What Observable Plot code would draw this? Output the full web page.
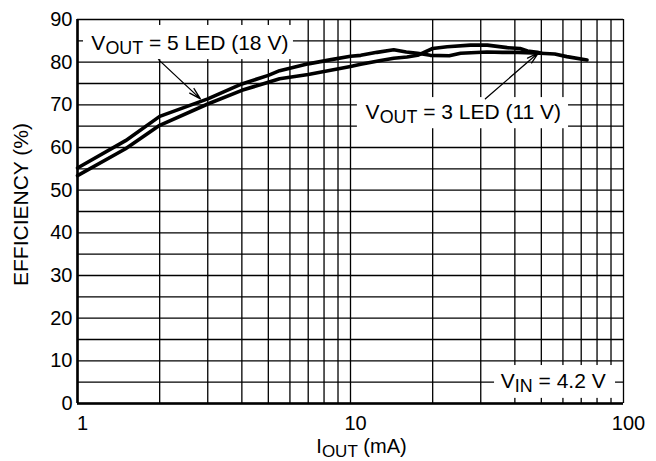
<!DOCTYPE html>
<html><head><meta charset="utf-8">
<script src="https://cdn.jsdelivr.net/npm/d3@7"></script>
<script src="https://cdn.jsdelivr.net/npm/@observablehq/plot@0.6"></script>
<style>body{margin:0;background:#fff}</style>
</head><body><div id="chart"></div>
<script>
// Series: 5 LED (18 V)
const ioutA = [1, 1.5, 2, 3, 4, 5, 5.5, 7, 8.5, 10, 10.9, 12.5, 14.4, 16, 17.6, 19.6, 23, 25.3, 31.6, 36, 41, 49.5, 56, 62, 73.5];
const effA  = [55.2, 61.6, 67.3, 71.4, 74.9, 76.9, 78.0, 79.6, 80.6, 81.4, 81.6, 82.3, 82.9, 82.4, 82.1, 81.6, 81.5, 82.1, 82.4, 82.3, 82.3, 82.1, 81.9, 81.3, 80.5];
// Series: 3 LED (11 V)
const ioutB = [1, 1.5, 2, 3, 4, 5, 5.5, 7, 10, 10.9, 12.9, 14.4, 16.1, 17.6, 20, 22.6, 27.5, 31.7, 37.5, 41.8, 44.5, 48.4, 50];
const effB  = [53.4, 59.7, 65.2, 70.2, 73.4, 75.3, 76.1, 77.1, 79.0, 79.5, 80.4, 80.9, 81.2, 81.6, 83.2, 83.6, 84.0, 84.0, 83.4, 83.2, 82.6, 82.3, 82.1];

const xTicks = [1, 10, 100];
const yTicks = [0, 10, 20, 30, 40, 50, 60, 70, 80, 90];
const xGrid = [1, 2, 3, 4, 5, 6, 7, 8, 9, 10, 20, 30, 40, 50, 60, 70, 80, 90, 100];
const yGrid = [0, 5, 10, 15, 20, 25, 30, 35, 40, 45, 50, 55, 60, 65, 70, 75, 80, 85, 90];
const annotationTexts = ["V_{OUT} = 5 LED (18 V)", "V_{OUT} = 3 LED (11 V)", "V_{IN} = 4.2 V"];
const xLabel = "I_{OUT} (mA)";
const yLabel = "EFFICIENCY (%)";

const seriesA = ioutA.map((x, i) => ({x, y: effA[i]}));
const seriesB = ioutB.map((x, i) => ({x, y: effB[i]}));

const boxes = [
  {x1: 1.052, x2: 6.18, y1: 80.6, y2: 88.6, tx: 2.58, ty: 84.5, text: annotationTexts[0]},
  {x1: 10.6, x2: 62.9, y1: 64.4, y2: 71.7, tx: 25.9, ty: 68.2, text: annotationTexts[1]},
  {x1: 33.7, x2: 93.5, y1: 1.2, y2: 8.9, tx: 55.3, ty: 5.2, text: annotationTexts[2]}
];
const arrows = [
  {x1: 1.98, y1: 80.6, x2: 2.82, y2: 71.4},
  {x1: 31.2, y1: 71.4, x2: 48.8, y2: 82.2}
];

const chart = Plot.plot({
  width: 656,
  height: 461,
  marginLeft: 77,
  marginRight: 33,
  marginTop: 19,
  marginBottom: 58,
  style: {fontFamily: "'Liberation Sans', Arial, Helvetica, sans-serif", fontSize: "20px", color: "black", background: "white"},
  x: {type: "log", domain: [1, 100]},
  y: {domain: [0, 90]},
  marks: [
    Plot.ruleX(xGrid, {stroke: "black", strokeWidth: 1.3, strokeOpacity: 1}),
    Plot.ruleY(yGrid, {stroke: "black", strokeWidth: 1.3, strokeOpacity: 1}),
    Plot.rect(boxes, {x1: "x1", x2: "x2", y1: "y1", y2: "y2", fill: "white"}),
    Plot.ruleX([1], {stroke: "black", strokeWidth: 2.6}),
    Plot.ruleY([0], {stroke: "black", strokeWidth: 2.6}),
    Plot.line(seriesA, {x: "x", y: "y", stroke: "black", strokeWidth: 3.6, curve: "linear"}),
    Plot.line(seriesB, {x: "x", y: "y", stroke: "black", strokeWidth: 3.6, curve: "linear"}),
    Plot.arrow(arrows, {x1: "x1", y1: "y1", x2: "x2", y2: "y2", stroke: "black", strokeWidth: 1.3, headLength: 14, headAngle: 30}),
    Plot.text(boxes, {x: "tx", y: "ty", text: "text", fontSize: 21, textAnchor: "middle", lineAnchor: "middle", fill: "black"}),
    Plot.axisX({ticks: xTicks, tickFormat: d => String(d), tickSize: 0, tickPadding: 12, label: null, dx: 5, fontSize: 20}),
    Plot.axisY({ticks: yTicks, tickSize: 0, tickPadding: 5, label: null, fontSize: 20}),
    Plot.text([xLabel], {frameAnchor: "bottom", text: d => d, dx: 11, dy: 43, fontSize: 20, textAnchor: "middle", lineAnchor: "middle"}),
    Plot.text([yLabel], {frameAnchor: "left", text: d => d, rotate: -90, dx: -56, dy: -7, fontSize: 21, textAnchor: "middle", lineAnchor: "middle"})
  ]
});

// Render subscripts written as _{...}
d3.select(chart).selectAll("text").each(function() {
  const t = this.textContent;
  if (!t.includes("_{")) return;
  const el = d3.select(this);
  el.text(null);
  const re = /_\{([^}]*)\}/g;
  let last = 0, m, shifted = false;
  while ((m = re.exec(t)) !== null) {
    if (m.index > last) {
      const s = el.append("tspan").text(t.slice(last, m.index));
      if (shifted) { s.attr("dy", -4); shifted = false; }
    }
    el.append("tspan").attr("font-size", "85%").attr("dy", 4).text(m[1]);
    shifted = true;
    last = re.lastIndex;
  }
  if (last < t.length) {
    const s = el.append("tspan").text(t.slice(last));
    if (shifted) s.attr("dy", -4);
  }
});

document.getElementById("chart").append(chart);
</script>
</body></html>
